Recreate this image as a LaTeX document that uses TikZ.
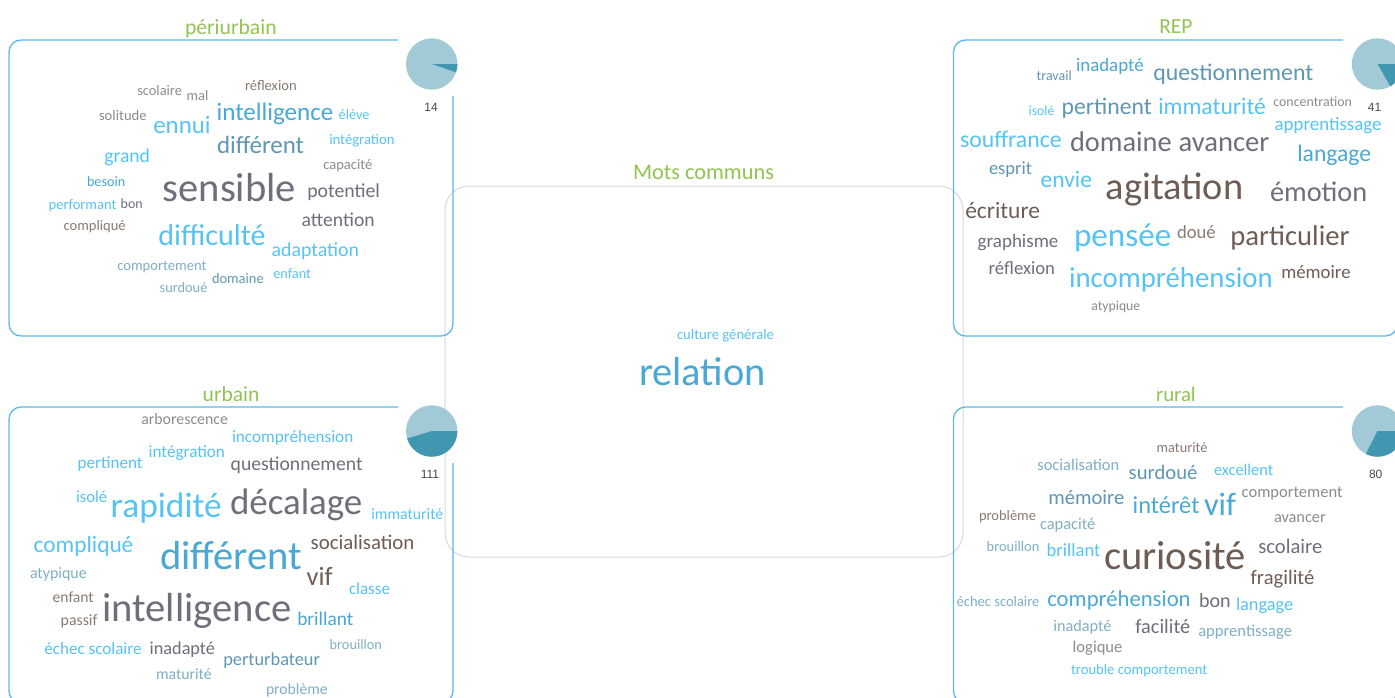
\documentclass[tikz,border=0pt]{standalone}
\usepackage{fontspec}
\setmainfont{Carlito}
\newfontfamily\numfont{Liberation Sans}
\definecolor{cA}{HTML}{55C4F5}
\definecolor{cB}{HTML}{48A8D6}
\definecolor{cC}{HTML}{5F97B3}
\definecolor{cD}{HTML}{6F6F7B}
\definecolor{cE}{HTML}{6E5D55}
\definecolor{cF}{HTML}{8C8C8C}
\definecolor{cG}{HTML}{7FAFC4}
\definecolor{cH}{HTML}{8A7A72}
\definecolor{frame}{HTML}{5BB8E8}
\definecolor{ctr}{HTML}{D9D9D9}
\definecolor{title}{HTML}{92C353}
\definecolor{pieL}{HTML}{A2CAD6}
\definecolor{pieD}{HTML}{4297B0}
\tikzset{
  wordtext/.style={inner sep=0pt,outer sep=0pt,anchor=base west,font=\fontsize{20}{24}\selectfont},
  panel/.style={draw=frame,line width=1.3pt,rounded corners=12pt},
  centerbox/.style={draw=ctr,line width=1pt,rounded corners=24pt},
  count/.style={inner sep=0pt,anchor=base,text=black!72,font=\numfont\fontsize{12}{14}\selectfont}
}
\newcounter{wordno}
\newcommand\wrd[5]{\stepcounter{wordno}\node[wordtext,text=#4] (word\arabic{wordno}) at (#1,#2+0.8) {\resizebox{#3pt}{!}{#5}};}
\newcommand\piechart[3]{\fill[pieL] (#1,#2) circle[radius=25.7pt];
  \fill[pieD] (#1,#2) -- ++(25.7pt,0pt) arc[start angle=0,end angle=#3,radius=25.7pt] -- cycle;}
\begin{document}
\begin{tikzpicture}[x=1pt,y=-1pt]
\useasboundingbox (0,0) rectangle (1395,697);
\clip (0,0) rectangle (1395,697);
\fill[white] (0,0) rectangle (1395,697);
\draw[centerbox] (445,186) rectangle (963,557);
\draw[panel] (398,40) -- (9,40) -- (9,336) -- (453,336) -- (453,96);
\draw[panel] (398,407) -- (9,407) -- (9,703) -- (453,703) -- (453,463);
\draw[panel] (1343,40) -- (953.5,40) -- (953.5,336) -- (1397.5,336) -- (1397.5,96);
\draw[panel] (1343,407) -- (953.5,407) -- (953.5,703) -- (1397.5,703) -- (1397.5,463);
\piechart{431.7}{64}{-19}
\piechart{1377.5}{64}{-60}
\piechart{431.7}{431}{-163}
\piechart{1377.5}{431}{-117}
\node[count] (n14) at (431,111) {14};
\node[count] (n41) at (1374.5,111) {41};
\node[count] (n111) at (430,478) {111};
\node[count] (n80) at (1375.7,478) {80};
% titles
\wrd{185}{33.3}{91.7}{title}{périurbain}
\wrd{1159.3}{33}{33.3}{title}{REP}
\wrd{202.7}{400.7}{56.7}{title}{urbain}
\wrd{1156}{400.7}{39.7}{title}{rural}
\wrd{633}{179}{141}{title}{Mots communs}
% centre
\wrd{677}{338.2}{97}{cA}{culture générale}
\wrd{639}{384.2}{127}{cB}{relation}
% périurbain
\wrd{137.3}{95}{44.7}{cF}{scolaire}
\wrd{186.7}{100}{21.7}{cF}{mal}
\wrd{245}{89.3}{51.7}{cH}{réflexion}
\wrd{99}{120}{47.7}{cF}{solitude}
\wrd{153.3}{132.7}{57.3}{cA}{ennui}
\wrd{216.7}{120}{116.7}{cB}{intelligence}
\wrd{338.7}{118.3}{30.7}{cA}{élève}
\wrd{329.3}{143.3}{65.3}{cA}{intégration}
\wrd{217}{152.7}{87}{cC}{différent}
\wrd{104.3}{161.7}{45.7}{cA}{grand}
\wrd{323.3}{168.7}{49}{cF}{capacité}
\wrd{87}{185.3}{38.3}{cB}{besoin}
\wrd{162.7}{200.7}{133.3}{cD}{sensible}
\wrd{307.3}{196.7}{72.7}{cD}{potentiel}
\wrd{48.7}{208.3}{67.7}{cA}{performant}
\wrd{120.7}{207.3}{22}{cD}{bon}
\wrd{63.7}{230}{62}{cH}{compliqué}
\wrd{301.7}{225.7}{73}{cD}{attention}
\wrd{158.3}{245}{107.3}{cA}{difficulté}
\wrd{271.7}{255.7}{87.3}{cA}{adaptation}
\wrd{117.3}{270}{89.3}{cG}{comportement}
\wrd{273.3}{277.3}{37.7}{cA}{enfant}
\wrd{212}{282.7}{51.7}{cC}{domaine}
\wrd{159.7}{291.7}{47.7}{cG}{surdoué}
% REP
\wrd{1036.7}{80}{35}{cC}{travail}
\wrd{1076}{70.7}{67.7}{cB}{inadapté}
\wrd{1153.3}{80}{160}{cC}{questionnement}
\wrd{1028.7}{114.3}{25.7}{cA}{isolé}
\wrd{1061.7}{113.3}{90}{cC}{pertinent}
\wrd{1158.3}{113.3}{107.7}{cA}{immaturité}
\wrd{1273.3}{105.3}{78.7}{cF}{concentration}
\wrd{1274.7}{129.3}{106.7}{cA}{apprentissage}
\wrd{960}{146.7}{101.7}{cA}{souffrance}
\wrd{1070}{150.7}{101.7}{cD}{domaine}
\wrd{1178.7}{150.7}{90.7}{cD}{avancer}
\wrd{1297.3}{161}{73.7}{cB}{langage}
\wrd{989}{174}{43}{cC}{esprit}
\wrd{1040.7}{186.7}{51.3}{cA}{envie}
\wrd{1105.7}{199}{137.7}{cE}{agitation}
\wrd{1270}{201}{97.3}{cD}{émotion}
\wrd{965.3}{217.3}{74.7}{cE}{écriture}
\wrd{977.7}{246.7}{80.7}{cD}{graphisme}
\wrd{1074}{246}{97.3}{cA}{pensée}
\wrd{1177}{237.3}{38.7}{cH}{doué}
\wrd{1230.3}{245}{119.3}{cE}{particulier}
\wrd{988.7}{274}{66.3}{cD}{réflexion}
\wrd{1069}{286.7}{203.7}{cA}{incompréhension}
\wrd{1281.3}{277.3}{69.3}{cE}{mémoire}
\wrd{1091.3}{310}{49}{cF}{atypique}
% urbain
\wrd{141.3}{424}{86.7}{cF}{arborescence}
\wrd{232}{442}{121.3}{cA}{incompréhension}
\wrd{148.7}{456.7}{76.3}{cA}{intégration}
\wrd{77.7}{467.7}{65}{cA}{pertinent}
\wrd{230.7}{469.3}{132}{cD}{questionnement}
\wrd{76}{501.7}{31.3}{cA}{isolé}
\wrd{110.7}{516.7}{111}{cA}{rapidité}
\wrd{230}{514}{132.3}{cD}{décalage}
\wrd{371.3}{518.3}{72}{cA}{immaturité}
\wrd{33.7}{552}{99.7}{cA}{compliqué}
\wrd{160}{568.3}{141.7}{cB}{différent}
\wrd{310.7}{548.7}{103.7}{cE}{socialisation}
\wrd{306.7}{585}{26}{cE}{vif}
\wrd{30}{578}{56.7}{cG}{atypique}
\wrd{349}{594}{41}{cA}{classe}
\wrd{52.7}{601.7}{41}{cH}{enfant}
\wrd{102.3}{620.7}{189.3}{cD}{intelligence}
\wrd{60.7}{625}{36.7}{cH}{passif}
\wrd{297.3}{625}{56}{cB}{brillant}
\wrd{44.3}{653.3}{97.3}{cA}{échec scolaire}
\wrd{149.7}{654}{65.3}{cD}{inadapté}
\wrd{329.7}{648.3}{52.3}{cG}{brouillon}
\wrd{223.3}{665}{96.7}{cC}{perturbateur}
\wrd{156}{679}{55.7}{cG}{maturité}
\wrd{266}{693.3}{61.7}{cG}{problème}
% rural
\wrd{1156.7}{451.3}{50.7}{cH}{maturité}
\wrd{1037.3}{469.3}{82}{cG}{socialisation}
\wrd{1128.7}{478.3}{68.7}{cC}{surdoué}
\wrd{1214}{475}{59.3}{cA}{excellent}
\wrd{1048.3}{504}{76}{cC}{mémoire}
\wrd{1132.7}{512.7}{66.7}{cB}{intérêt}
\wrd{1204}{515}{32}{cB}{vif}
\wrd{1241.7}{496.7}{101}{cF}{comportement}
\wrd{979}{520}{57}{cH}{problème}
\wrd{1040}{528.3}{55.3}{cG}{capacité}
\wrd{1274}{522}{51.7}{cF}{avancer}
\wrd{986.7}{551}{52.7}{cG}{brouillon}
\wrd{1046.7}{556}{53.7}{cA}{brillant}
\wrd{1104}{568.3}{142}{cE}{curiosité}
\wrd{1258.3}{552.7}{64}{cD}{scolaire}
\wrd{1250.7}{583.3}{63.7}{cE}{fragilité}
\wrd{956.7}{605.3}{82.7}{cG}{échec scolaire}
\wrd{1047.3}{605.3}{143.3}{cB}{compréhension}
\wrd{1199}{607}{31.7}{cD}{bon}
\wrd{1236}{610}{57.3}{cA}{langage}
\wrd{1053.3}{630.7}{58.3}{cG}{inadapté}
\wrd{1135.3}{632.3}{55}{cD}{facilité}
\wrd{1198.3}{635.7}{93.7}{cG}{apprentissage}
\wrd{1072.7}{651.7}{49.7}{cF}{logique}
\wrd{1071}{673.3}{136.3}{cA}{trouble comportement}
\end{tikzpicture}
\end{document}
